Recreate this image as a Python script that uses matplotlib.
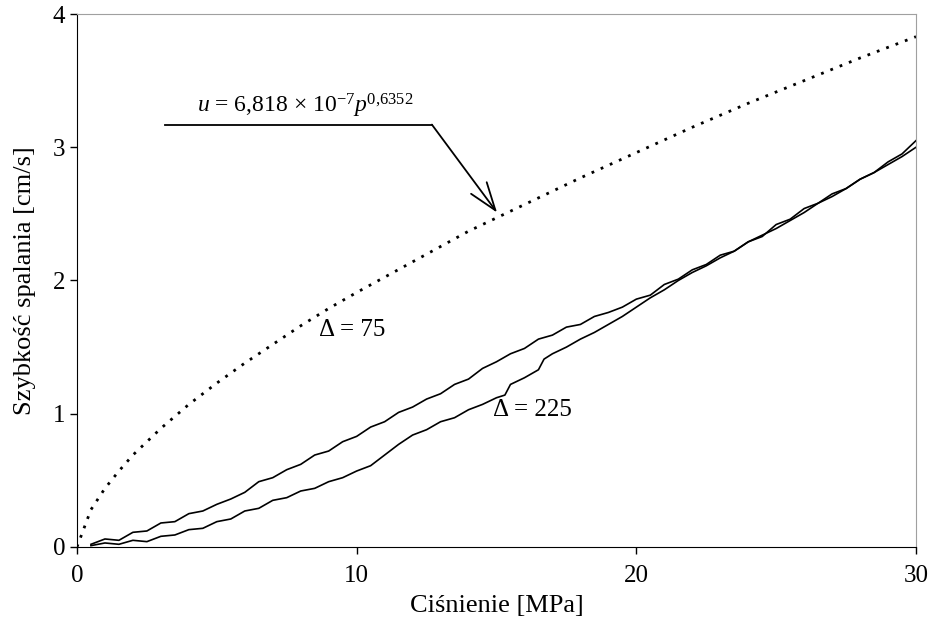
import matplotlib
matplotlib.use("Agg")
import matplotlib.pyplot as plt

plt.rcParams['font.family'] = ['Liberation Serif', 'DejaVu Serif']
plt.rcParams['mathtext.fontset'] = 'custom'
plt.rcParams['mathtext.rm'] = 'Liberation Serif'
plt.rcParams['mathtext.it'] = 'Liberation Serif:italic'

# krzywa u = 6,818e-7 p^0,6352
p_fit = [0, 0.5, 1, 1.5, 2, 2.5, 3, 4, 5, 6, 7, 8, 9, 10, 12, 14, 16, 18, 20,
         22, 24, 26, 28, 30]
u_fit = [0, 0.28, 0.44, 0.57, 0.69, 0.79, 0.89, 1.07, 1.23, 1.38, 1.52, 1.66,
         1.79, 1.91, 2.14, 2.37, 2.57, 2.77, 2.96, 3.15, 3.33, 3.50, 3.67, 3.83]

# delta = 75
p_75 = [0.5, 1.0, 1.5, 2.0, 2.5, 3.0, 3.5, 4.0, 4.5, 5.0, 5.5, 6.0, 6.5, 7.0,
        7.5, 8.0, 8.5, 9.0, 9.5, 10.0, 10.5, 11.0, 11.5, 12.0, 12.5, 13.0,
        13.5, 14.0, 14.5, 15.0, 15.5, 16.0, 16.5, 17.0, 17.5, 18.0, 18.5,
        19.0, 19.5, 20.0, 20.5, 21.0, 21.5, 22.0, 22.5, 23.0, 23.5, 24.0,
        24.5, 25.0, 25.5, 26.0, 26.5, 27.0, 27.5, 28.0, 28.5, 29.0, 29.5, 30.0]
u_75 = [0.02, 0.06, 0.05, 0.11, 0.12, 0.18, 0.19, 0.25, 0.27, 0.32, 0.36,
        0.41, 0.49, 0.52, 0.58, 0.62, 0.69, 0.72, 0.79, 0.83, 0.90, 0.94,
        1.01, 1.05, 1.11, 1.15, 1.22, 1.26, 1.34, 1.39, 1.45, 1.49, 1.56,
        1.59, 1.65, 1.67, 1.73, 1.76, 1.80, 1.86, 1.89, 1.97, 2.01, 2.08,
        2.12, 2.19, 2.22, 2.29, 2.33, 2.42, 2.46, 2.54, 2.58, 2.65, 2.69,
        2.76, 2.81, 2.89, 2.95, 3.05]

# delta = 225
p_225 = [0.5, 1.0, 1.5, 2.0, 2.5, 3.0, 3.5, 4.0, 4.5, 5.0, 5.5, 6.0, 6.5,
         7.0, 7.5, 8.0, 8.5, 9.0, 9.5, 10.0, 10.5, 11.0, 11.5, 12.0, 12.5,
         13.0, 13.5, 14.0, 14.5, 15.0, 15.3, 15.5, 16.0, 16.5, 16.7, 17.0,
         17.5, 18.0, 18.5, 19.0, 19.5, 20.0, 20.5, 21.0, 21.5, 22.0, 22.5,
         23.0, 23.5, 24.0, 24.5, 25.0, 25.5, 26.0, 26.5, 27.0, 27.5, 28.0,
         28.5, 29.0, 29.5, 30.0]
u_225 = [0.01, 0.03, 0.02, 0.05, 0.04, 0.08, 0.09, 0.13, 0.14, 0.19, 0.21,
         0.27, 0.29, 0.35, 0.37, 0.42, 0.44, 0.49, 0.52, 0.57, 0.61, 0.69,
         0.77, 0.84, 0.88, 0.94, 0.97, 1.03, 1.07, 1.12, 1.14, 1.22, 1.27,
         1.33, 1.41, 1.45, 1.50, 1.56, 1.61, 1.67, 1.73, 1.80, 1.87, 1.93,
         2.00, 2.06, 2.11, 2.17, 2.22, 2.29, 2.34, 2.39, 2.45, 2.51, 2.58,
         2.63, 2.69, 2.76, 2.81, 2.87, 2.93, 3.00]

fig = plt.figure(figsize=(9.33, 6.17), dpi=100)
ax = fig.add_axes([0.0825, 0.1135, 0.8993, 0.8638])

ax.plot(p_fit, u_fit, color='black', lw=2.0, linestyle=(0, (1, 2.6)))
ax.plot(p_75, u_75, color='black', lw=1.2)
ax.plot(p_225, u_225, color='black', lw=1.2)

ax.set_xlim(0, 30)
ax.set_ylim(0, 4)
ax.set_xticks([0, 10, 20, 30])
ax.set_yticks([0, 1, 2, 3, 4])
ax.tick_params(direction='out', length=5, labelsize=18, width=1)
ax.tick_params(axis='x', pad=8)
ax.spines['top'].set_color('#a0a0a0')
ax.spines['right'].set_color('#a0a0a0')

ax.set_xlabel('Ciśnienie [MPa]', fontsize=19, labelpad=6)
ax.set_ylabel('Szybkość spalania [cm/s]', fontsize=19, labelpad=12)

# opis wzoru ze strzalka
ax.text(8.15, 3.26, r'$u$ = 6,818 × 10$^{-7}$$p^{0{,}6352}$', fontsize=17,
        ha='center', va='baseline')
ax.plot([3.15, 12.69], [3.17, 3.17], color='black', lw=1.3)
ax.annotate('', xy=(15.02, 2.51), xytext=(12.69, 3.17),
            arrowprops=dict(arrowstyle='->,head_length=1.0,head_width=0.35',
                            color='black', lw=1.3, mutation_scale=20,
                            shrinkA=0, shrinkB=0))

ax.text(9.83, 1.63, 'Δ = 75', fontsize=18, ha='center', va='center')
ax.text(16.3, 1.03, 'Δ = 225', fontsize=18, ha='center', va='center')

fig.savefig('out.png', dpi=100)
